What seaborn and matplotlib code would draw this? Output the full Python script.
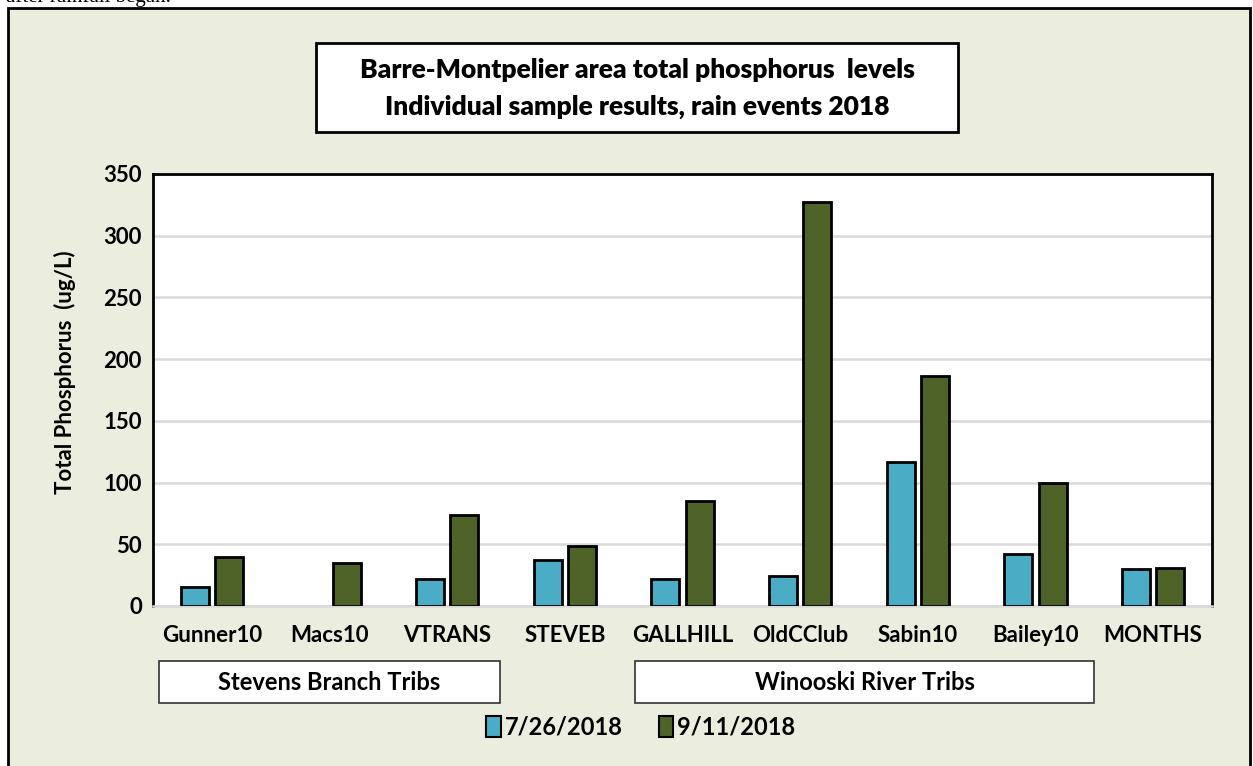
import numpy as np
import pandas as pd
import matplotlib
matplotlib.use("Agg")
import matplotlib.pyplot as plt
import matplotlib.transforms as mtransforms
from matplotlib.patches import Rectangle, Patch
import seaborn as sns

# ── Data ──────────────────────────────────────────────────────────
sites = ["Gunner10", "Macs10", "VTRANS", "STEVEB", "GALLHILL",
         "OldCClub", "Sabin10", "Bailey10", "MONTHS"]
dates = ["7/26/2018", "9/11/2018"]
tp_jul = [15, np.nan, 22, 37, 22, 24, 117, 42, 30]
tp_sep = [40, 35, 74, 49, 85, 327, 186, 100, 31]
y_ticks = [0, 50, 100, 150, 200, 250, 300, 350]
groups = [("Stevens Branch Tribs", -0.45, 2.45),
          ("Winooski River Tribs", 3.6, 7.5)]

COLORS = {"7/26/2018": "#4BACC6", "9/11/2018": "#4F6228"}
BG = "#EBEEDE"
W, H = 1253, 766

df = pd.DataFrame({
    "site": sites * 2,
    "date": [dates[0]] * len(sites) + [dates[1]] * len(sites),
    "tp": tp_jul + tp_sep,
})

# ── Style ─────────────────────────────────────────────────────────
sns.set_theme(style="white")
plt.rcParams.update({
    "font.family": ["Lato", "DejaVu Sans"],
    "font.weight": "bold",
    "text.color": "black",
    "xtick.color": "black",
    "ytick.color": "black",
    "axes.labelcolor": "black",
})


def fx(px):
    return px / W


def fy(py):
    return 1 - py / H


fig = plt.figure(figsize=(W / 100, H / 100), dpi=100, facecolor="white")

# outer frame (document screenshot)
fig.patches.append(Rectangle((fx(8), fy(800)), fx(1250) - fx(8), fy(8) - fy(800),
                             transform=fig.transFigure, facecolor=BG,
                             edgecolor="black", linewidth=2, zorder=0))
fig.text(fx(6), fy(2), "after rainfall began.", family="Liberation Serif",
         fontweight="normal", fontsize=15, va="baseline", ha="left")

ax = fig.add_axes([fx(153), fy(606), fx(1212) - fx(153), fy(174) - fy(606)])
ax.set_zorder(1)
ax.set_facecolor("white")

sns.barplot(data=df, x="site", y="tp", hue="date", hue_order=dates,
            palette=COLORS, saturation=1, width=0.58, gap=0.18, errorbar=None,
            edgecolor="black", linewidth=2, legend=False, ax=ax, zorder=3)

ax.set_ylim(0, 350)
ax.set_xlim(-0.5, len(sites) - 0.5)
ax.set_yticks(y_ticks)
ax.yaxis.grid(True, color="#D9D9D9", linewidth=1.8, zorder=0)
ax.set_axisbelow(True)
ax.tick_params(axis="both", labelsize=16, length=0, pad=8)
ax.tick_params(axis="x", pad=14)
for lbl in ax.get_xticklabels() + ax.get_yticklabels():
    lbl.set_fontweight("bold")
ax.set_xlabel("")
ax.set_ylabel("")
for side in ["left", "top", "right"]:
    ax.spines[side].set_color("black")
    ax.spines[side].set_linewidth(2)
ax.spines["bottom"].set_color("#D9D9D9")
ax.spines["bottom"].set_linewidth(1.8)

fig.text(fx(65), fy(372), "Total Phosphorus  (ug/L)", rotation=90,
         ha="center", va="center", fontsize=16, fontweight="bold")

# title box
fig.patches.append(Rectangle((fx(316), fy(132)), fx(958) - fx(316), fy(43) - fy(132),
                             transform=fig.transFigure, facecolor="white",
                             edgecolor="black", linewidth=2, zorder=2))
fig.text(fx(637), fy(70), "Barre-Montpelier area total phosphorus  levels",
         ha="center", va="center", fontsize=19, fontweight="heavy", zorder=3)
fig.text(fx(637), fy(107), "Individual sample results, rain events 2018",
         ha="center", va="center", fontsize=19, fontweight="heavy", zorder=3)

# group boxes under the x axis
trans = mtransforms.blended_transform_factory(ax.transData, fig.transFigure)
for name, x0, x1 in groups:
    ax.add_patch(Rectangle((x0, fy(703)), x1 - x0, fy(661) - fy(703),
                           transform=trans, facecolor="white", edgecolor="#333333",
                           linewidth=1.2, clip_on=False))
    ax.text((x0 + x1) / 2, fy(682), name, transform=trans, ha="center",
            va="center", fontsize=17, fontweight="bold")

handles = [Patch(facecolor=COLORS[d], edgecolor="black", linewidth=1.5, label=d)
           for d in dates]
fig.legend(handles=handles, loc="center", bbox_to_anchor=(fx(641), fy(727)),
           ncol=2, frameon=False, handlelength=0.6, handleheight=1.0,
           handletextpad=0.2, columnspacing=1.5, prop={"weight": "bold", "size": 17})

fig.savefig("out.png", dpi=100)
